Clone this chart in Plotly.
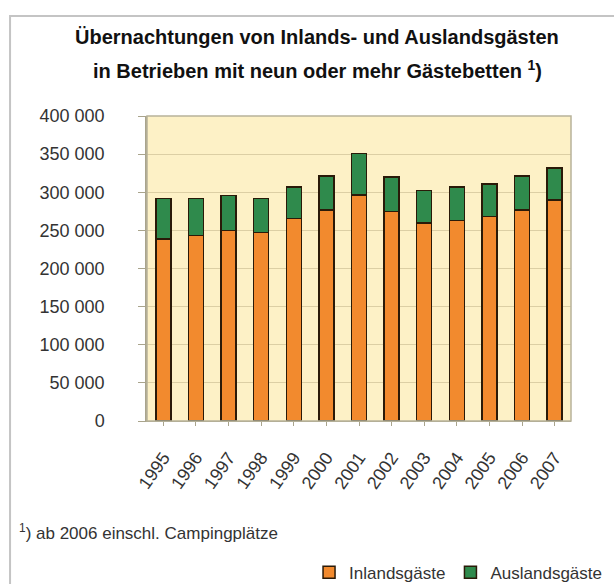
import plotly.graph_objects as go

years = ["1995", "1996", "1997", "1998", "1999", "2000", "2001",
         "2002", "2003", "2004", "2005", "2006", "2007"]
inland = [238800, 243000, 249700, 247500, 265800, 276700, 296700,
          275000, 259700, 262700, 268000, 276700, 289800]
ausland = [53100, 49000, 46300, 44500, 41200, 44900, 54000,
           45000, 42300, 44300, 42700, 44900, 41800]
ytick_vals = [0, 50000, 100000, 150000, 200000, 250000, 300000, 350000, 400000]
ytick_text = ["0", "50 000", "100 000", "150 000", "200 000", "250 000",
              "300 000", "350 000", "400 000"]

FONT = "Liberation Sans, Arial, sans-serif"
outline = dict(color="#2a1a08", width=1.5)

fig = go.Figure()
fig.add_trace(go.Bar(x=years, y=inland, name="Inlandsgäste",
                     marker=dict(color="#F28A2E", line=outline), width=0.46))
fig.add_trace(go.Bar(x=years, y=ausland, name="Auslandsgäste",
                     marker=dict(color="#2F8A4C", line=outline), width=0.46))

fig.update_layout(
    barmode="stack",
    width=614, height=584,
    margin=dict(l=147, r=43, t=116, b=163, autoexpand=False),
    paper_bgcolor="white",
    plot_bgcolor="#FDF1C6",
    font=dict(family=FONT, color="#333333"),
    showlegend=True,
    legend=dict(orientation="h", x=1.085, xanchor="right", y=-0.497, yanchor="middle",
                font=dict(size=17, color="#333333"), itemwidth=30,
                bgcolor="rgba(0,0,0,0)", traceorder="normal"),
    xaxis=dict(type="category", range=[-0.5, 12.5], tickangle=-55, automargin=False,
               tickfont=dict(size=18, color="#333333"),
               showline=True, linecolor="#A9A48C", linewidth=1,
               ticks="outside", ticklen=4, tickcolor="#A9A48C",
               ticklabelstandoff=14, showgrid=False),
    yaxis=dict(range=[0, 400000], tickvals=ytick_vals, ticktext=ytick_text, automargin=False,
               tickfont=dict(size=18, color="#333333"),
               showline=True, linecolor="#A9A48C", linewidth=1.5,
               ticks="outside", ticklen=7, tickcolor="#A9A48C",
               ticklabelstandoff=30,
               showgrid=True, gridcolor="#DCCFA4", gridwidth=1, zeroline=False),
    shapes=[
        dict(type="rect", xref="paper", yref="paper",
             x0=-0.323, x1=1.3, y0=-0.8, y1=1.328,
             line=dict(color="#C4C4C4", width=2), fillcolor="rgba(0,0,0,0)", layer="below"),
        dict(type="rect", xref="paper", yref="paper", x0=0, x1=1, y0=0, y1=1,
             line=dict(color="#B8B39A", width=1.5), fillcolor="rgba(0,0,0,0)"),
    ],
    annotations=[
        dict(text="<b>Übernachtungen von Inlands- und Auslandsgästen</b>",
             xref="paper", yref="paper", x=0.401, y=1.259, xanchor="center", yanchor="middle",
             showarrow=False, font=dict(size=20, color="#111111", family=FONT)),
        dict(text="<b>in Betrieben mit neun oder mehr Gästebetten <sup>1</sup>)</b>",
             xref="paper", yref="paper", x=0.401, y=1.154, xanchor="center", yanchor="middle",
             showarrow=False, font=dict(size=20, color="#111111", family=FONT)),
        dict(text="<sup>1</sup>) ab 2006 einschl. Campingplätze",
             xref="paper", yref="paper", x=-0.306, y=-0.364, xanchor="left", yanchor="middle",
             showarrow=False, font=dict(size=17, color="#333333", family=FONT)),
    ],
)

fig.write_html(
    "out.html",
    config={"displayModeBar": False},
    post_script="document.body.style.margin='0';document.body.style.overflow='hidden';",
)
